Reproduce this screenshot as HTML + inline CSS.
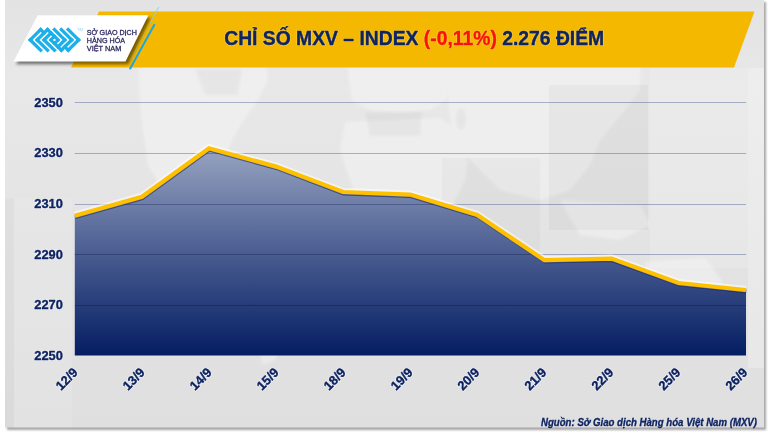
<!DOCTYPE html>
<html><head><meta charset="utf-8">
<style>
html,body{margin:0;padding:0;background:#fff;width:770px;height:433px;overflow:hidden}
svg{display:block}
text{font-family:"Liberation Sans",sans-serif}
</style></head>
<body>
<svg width="770" height="433" viewBox="0 0 770 433">
<defs>
  <linearGradient id="fillg" x1="0" y1="147" x2="0" y2="356" gradientUnits="userSpaceOnUse">
    <stop offset="0" stop-color="#98a4c1"/>
    <stop offset="0.5" stop-color="#4b5e92"/>
    <stop offset="1" stop-color="#041d62"/>
  </linearGradient>
  <linearGradient id="bgg" x1="0" y1="0" x2="0" y2="428" gradientUnits="userSpaceOnUse">
    <stop offset="0" stop-color="#e3e3e3"/>
    <stop offset="0.2" stop-color="#e8e8e8"/>
    <stop offset="0.5" stop-color="#e4e4e4"/>
    <stop offset="1" stop-color="#dfdfdf"/>
  </linearGradient>
  <filter id="blur05" x="-5%" y="-20%" width="110%" height="140%"><feGaussianBlur stdDeviation="0.6"/></filter>
  <filter id="blur15" x="-20%" y="-20%" width="140%" height="140%"><feGaussianBlur stdDeviation="1.5"/></filter>
  <filter id="blur1" x="-10%" y="-10%" width="120%" height="120%"><feGaussianBlur stdDeviation="1.2"/></filter>
  <filter id="blur2" x="-20%" y="-20%" width="140%" height="140%"><feGaussianBlur stdDeviation="2"/></filter>
</defs>
<!-- card shadow -->
<rect x="7" y="2" width="759" height="428" fill="#a6a6a6" filter="url(#blur1)"/>
<!-- card -->
<rect x="5" y="0" width="759" height="427.5" fill="url(#bgg)"/>
<!-- faint map -->
<g fill="#ffffff" opacity="0.32" filter="url(#blur15)">
  <path d="M138,64 L266,64 L268,80 L258,100 L245,118 L232,140 L222,165 L212,190 L200,202 L180,198 L160,185 L148,165 L143,130 L140,100 Z"/>
  <path d="M232,205 L262,208 L290,225 L328,245 L318,285 L295,320 L275,360 L262,365 L258,330 L250,290 L238,250 Z"/>
  <path d="M347,64 L452,64 L446,100 L430,110 L400,112 L370,110 L352,100 Z"/>
  <path d="M345,122 L440,118 L470,140 L465,180 L440,230 L420,280 L400,300 L385,280 L370,230 L350,180 L340,150 Z"/>
  <path d="M446,64 L640,64 L640,90 L625,110 L600,140 L590,165 L570,190 L540,200 L500,190 L470,160 L452,130 L448,100 Z"/>
  <path d="M560,200 L640,205 L650,225 L620,240 L580,235 Z"/>
  <path d="M645,262 L705,258 L722,280 L712,318 L680,325 L650,305 Z"/>
</g>
<g fill="#000" opacity="0.03" filter="url(#blur15)">
  <path d="M195,69 L242,69 L238,95 L205,95 Z"/>
  <path d="M365,112 L422,112 L420,136 L370,136 Z"/>
  <ellipse cx="461" cy="119" rx="5" ry="11"/>
</g>
<rect x="549" y="85" width="99" height="145" fill="#000" opacity="0.03"/>
<rect x="442" y="158" width="98" height="110" fill="#000" opacity="0.025"/>
<rect x="650" y="68" width="98" height="200" fill="#fff" opacity="0.15"/>
<rect x="5" y="198" width="9" height="230" fill="#000" opacity="0.02"/>
<rect x="14" y="198.5" width="58" height="229" fill="#fff" opacity="0.1"/>
<rect x="748" y="68" width="16" height="300" fill="#fff" opacity="0.25"/>

<!-- yellow banner -->
<polygon points="99,11.5 754.5,11.5 734,67.5 71,67.5" fill="#f4b800"/>
<!-- white logo box shadow -->
<polygon points="40.2,17.8 151,17.8 128.3,64.3 16,64.3" fill="#000" opacity="0.5" filter="url(#blur15)"/>
<!-- white logo box -->
<polygon points="37.7,15.3 148.4,15.3 125.5,61.6 13.5,61.6" fill="#ffffff"/>
<!-- blue lines -->
<line x1="158.9" y1="6.8" x2="150.3" y2="22.8" stroke="#86d3f2" stroke-width="0.9"/>
<line x1="150.3" y1="22.8" x2="130.3" y2="60" stroke="#86d3f2" stroke-width="0.8" opacity="0.35"/>
<line x1="154.6" y1="24.3" x2="129.8" y2="69.3" stroke="#1ca6e2" stroke-width="2"/>

<!-- logo glyph -->
<g transform="matrix(3.45,-3.45,3.45,3.45,30.3,39.9)" fill="none" stroke="#1cb0ea" stroke-width="0.68" stroke-linecap="square">
<line x1="0" y1="0" x2="3" y2="0"/>
<line x1="0" y1="0" x2="0" y2="3"/>
<line x1="3" y1="0" x2="3" y2="1"/>
<line x1="1" y1="1" x2="4" y2="1"/>
<line x1="1" y1="1" x2="1" y2="4"/>
<line x1="2" y1="2" x2="4" y2="2"/>
<line x1="2" y1="2" x2="2" y2="5"/>
<line x1="4" y1="1" x2="4" y2="4"/>
<line x1="4" y1="7" x2="7" y2="7"/>
<line x1="7" y1="4" x2="7" y2="7"/>
<line x1="4" y1="6" x2="4" y2="7"/>
<line x1="3" y1="6" x2="6" y2="6"/>
<line x1="6" y1="3" x2="6" y2="6"/>
<line x1="3" y1="5" x2="5" y2="5"/>
<line x1="5" y1="2" x2="5" y2="5"/>
<line x1="3" y1="3" x2="3" y2="6"/>
<line x1="3" y1="3" x2="4" y2="3"/>
<line x1="3" y1="4" x2="4" y2="4"/>
</g>
<circle cx="54.45" cy="39.9" r="1.15" fill="#fff"/>
<text x="77" y="31" font-size="4" fill="#8fd3f0">TM</text>

<!-- logo text -->
<g fill="#2c2b5f" font-size="6.9" stroke="#2c2b5f" stroke-width="0.28">
  <text x="86.8" y="34.5" textLength="50" lengthAdjust="spacingAndGlyphs">SỞ GIAO DỊCH</text>
  <text x="86.8" y="42.8" textLength="38.3" lengthAdjust="spacingAndGlyphs">HÀNG HÓA</text>
  <text x="86.8" y="51.1" textLength="34.5" lengthAdjust="spacingAndGlyphs">VIỆT NAM</text>
</g>

<!-- title -->
<text x="224.2" y="45.4" font-size="19.4" font-weight="bold" fill="#ffd766" stroke="#ffd766" stroke-width="2" stroke-linejoin="round" opacity="0.45" textLength="380" lengthAdjust="spacingAndGlyphs">CHỈ SỐ MXV – INDEX (-0,11%) 2.276 ĐIỂM</text>
<text x="224.2" y="45.4" font-size="19.4" font-weight="bold" fill="#0e2463" stroke="#0e2463" stroke-width="0.35" textLength="380" lengthAdjust="spacingAndGlyphs">CHỈ SỐ MXV – INDEX <tspan fill="#f8130c" stroke="#f8130c">(-0,11%)</tspan> 2.276 ĐIỂM</text>

<!-- chart area fill -->
<polygon points="74.8,215.8 141.9,196.8 209,148.2 276.1,166.6 343.2,192.0 410.3,194.6 477.4,215.0 544.5,260.2 611.6,258.6 678.7,283.0 746,290.0 746,355.5 74.8,355.5" fill="url(#fillg)"/>
<!-- gridlines -->
<g stroke="#b2bcd6" stroke-width="1" style="mix-blend-mode:multiply">
  <line x1="74.8" y1="102.5" x2="746" y2="102.5"/>
  <line x1="74.8" y1="153.5" x2="746" y2="153.5"/>
  <line x1="74.8" y1="204.5" x2="746" y2="204.5"/>
  <line x1="74.8" y1="254.5" x2="746" y2="254.5"/>
  <line x1="74.8" y1="305.5" x2="746" y2="305.5"/>
</g>
<!-- line glow -->
<polyline points="74.8,215.8 141.9,196.8 209,148.2 276.1,166.6 343.2,192.0 410.3,194.6 477.4,215.0 544.5,260.2 611.6,258.6 678.7,283.0 746,290.0" fill="none" stroke="#ffffff" stroke-width="6.5" opacity="0.55" transform="translate(0,-0.8)" filter="url(#blur05)"/>
<!-- line shadow -->
<polyline points="74.8,215.8 141.9,196.8 209,148.2 276.1,166.6 343.2,192.0 410.3,194.6 477.4,215.0 544.5,260.2 611.6,258.6 678.7,283.0 746,290.0" fill="none" stroke="#132560" stroke-width="4" opacity="0.6" transform="translate(0.3,1.4)" filter="url(#blur05)"/>
<!-- line -->
<polyline points="74.8,215.8 141.9,196.8 209,148.2 276.1,166.6 343.2,192.0 410.3,194.6 477.4,215.0 544.5,260.2 611.6,258.6 678.7,283.0 746,290.0" fill="none" stroke="#ffc000" stroke-width="4.2" stroke-linejoin="miter"/>

<!-- y labels -->
<g font-size="13.2" font-weight="bold" fill="none" text-anchor="end" stroke="#ffffff" stroke-opacity="0.5" stroke-width="1.8" stroke-linejoin="round">
  <text x="62.9" y="106.7" textLength="28.6" lengthAdjust="spacingAndGlyphs">2350</text>
  <text x="62.9" y="157.3" textLength="28.6" lengthAdjust="spacingAndGlyphs">2330</text>
  <text x="62.9" y="207.9" textLength="28.6" lengthAdjust="spacingAndGlyphs">2310</text>
  <text x="62.9" y="258.5" textLength="28.6" lengthAdjust="spacingAndGlyphs">2290</text>
  <text x="62.9" y="309.2" textLength="28.6" lengthAdjust="spacingAndGlyphs">2270</text>
  <text x="62.9" y="359.8" textLength="28.6" lengthAdjust="spacingAndGlyphs">2250</text>
</g>
<g font-size="13.2" font-weight="bold" fill="#0d2362" text-anchor="end" stroke="#0d2362" stroke-width="0.35">
  <text x="62.9" y="106.7" textLength="28.6" lengthAdjust="spacingAndGlyphs">2350</text>
  <text x="62.9" y="157.3" textLength="28.6" lengthAdjust="spacingAndGlyphs">2330</text>
  <text x="62.9" y="207.9" textLength="28.6" lengthAdjust="spacingAndGlyphs">2310</text>
  <text x="62.9" y="258.5" textLength="28.6" lengthAdjust="spacingAndGlyphs">2290</text>
  <text x="62.9" y="309.2" textLength="28.6" lengthAdjust="spacingAndGlyphs">2270</text>
  <text x="62.9" y="359.8" textLength="28.6" lengthAdjust="spacingAndGlyphs">2250</text>
</g>

<!-- x labels -->
<g font-size="12.8" font-weight="bold" fill="none" text-anchor="end" stroke="#ffffff" stroke-opacity="0.5" stroke-width="1.8" stroke-linejoin="round">
  <text transform="translate(78.6,373.3) rotate(-45)">12/9</text>
  <text transform="translate(145.6,373.3) rotate(-45)">13/9</text>
  <text transform="translate(212.5,373.3) rotate(-45)">14/9</text>
  <text transform="translate(279.5,373.3) rotate(-45)">15/9</text>
  <text transform="translate(346.5,373.3) rotate(-45)">18/9</text>
  <text transform="translate(413.5,373.3) rotate(-45)">19/9</text>
  <text transform="translate(480.4,373.3) rotate(-45)">20/9</text>
  <text transform="translate(547.4,373.3) rotate(-45)">21/9</text>
  <text transform="translate(614.4,373.3) rotate(-45)">22/9</text>
  <text transform="translate(681.3,373.3) rotate(-45)">25/9</text>
  <text transform="translate(748.3,373.3) rotate(-45)">26/9</text>
</g>
<g font-size="12.8" font-weight="bold" fill="#0d2362" text-anchor="end" stroke="#0d2362" stroke-width="0.35">
  <text transform="translate(78.6,373.3) rotate(-45)">12/9</text>
  <text transform="translate(145.6,373.3) rotate(-45)">13/9</text>
  <text transform="translate(212.5,373.3) rotate(-45)">14/9</text>
  <text transform="translate(279.5,373.3) rotate(-45)">15/9</text>
  <text transform="translate(346.5,373.3) rotate(-45)">18/9</text>
  <text transform="translate(413.5,373.3) rotate(-45)">19/9</text>
  <text transform="translate(480.4,373.3) rotate(-45)">20/9</text>
  <text transform="translate(547.4,373.3) rotate(-45)">21/9</text>
  <text transform="translate(614.4,373.3) rotate(-45)">22/9</text>
  <text transform="translate(681.3,373.3) rotate(-45)">25/9</text>
  <text transform="translate(748.3,373.3) rotate(-45)">26/9</text>
</g>

<!-- source -->
<text x="541" y="425.6" font-size="10.4" font-weight="bold" font-style="italic" fill="#0f2463" stroke="#0f2463" stroke-width="0.3" textLength="216" lengthAdjust="spacingAndGlyphs">Nguồn: Sở Giao dịch Hàng hóa Việt Nam (MXV)</text>
</svg>
</body></html>
